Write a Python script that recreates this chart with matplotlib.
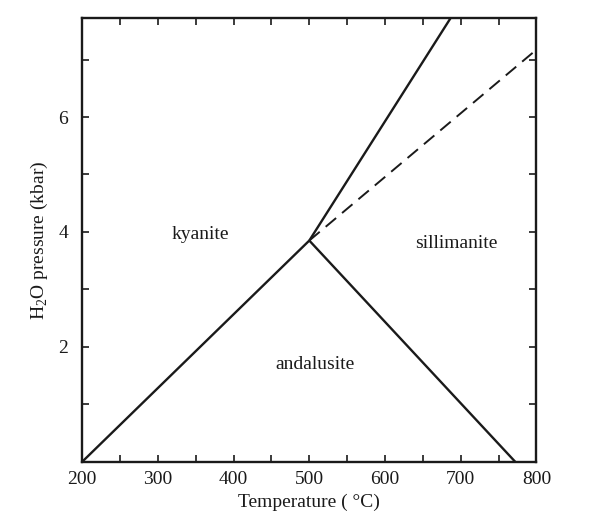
import matplotlib
matplotlib.use("Agg")
import matplotlib.pyplot as plt
from matplotlib.ticker import MultipleLocator

plt.rcParams["font.family"] = ["Liberation Serif", "DejaVu Serif"]
plt.rcParams["mathtext.fontset"] = "custom"
plt.rcParams["mathtext.rm"] = "Liberation Serif"

# phase boundaries (temperature degC, pressure kbar)
ky_and_t = [200, 500]
ky_and_p = [0.0, 3.85]
and_sil_t = [500, 772]
and_sil_p = [3.85, 0.0]
ky_sil_t = [500, 688]
ky_sil_p = [3.85, 7.75]
ky_sil_alt_t = [500, 798]
ky_sil_alt_p = [3.85, 7.15]

phase_names = ["kyanite", "sillimanite", "andalusite"]
phase_t = [356, 694, 508]
phase_p = [3.95, 3.8, 1.7]

ink = "#1a1a1a"

fig = plt.figure(figsize=(6.0, 5.2), dpi=100)
ax = fig.add_axes([0.137, 0.112, 0.757, 0.853])

lw = 1.7
ax.plot(ky_and_t, ky_and_p, color=ink, linewidth=lw, solid_capstyle="butt")
ax.plot(and_sil_t, and_sil_p, color=ink, linewidth=lw, solid_capstyle="butt")
ax.plot(ky_sil_t, ky_sil_p, color=ink, linewidth=lw, solid_capstyle="butt")
ax.plot(ky_sil_alt_t, ky_sil_alt_p, color=ink, linewidth=1.4,
        linestyle=(0, (7, 4)))

for name, t, p in zip(phase_names, phase_t, phase_p):
    ax.text(t, p, name, ha="center", va="center", fontsize=14, color=ink)

ax.set_xlim(200, 800)
ax.set_ylim(0, 7.72)
ax.set_xticks([200, 300, 400, 500, 600, 700, 800])
ax.xaxis.set_minor_locator(MultipleLocator(50))
ax.set_yticks([2, 4, 6])
ax.yaxis.set_minor_locator(MultipleLocator(1))
ax.tick_params(which="both", direction="in", top=True, right=True,
               color=ink, width=1.2, length=5, labelsize=14, labelcolor=ink)
ax.tick_params(axis="x", pad=7)
ax.tick_params(axis="y", pad=10)
for s in ax.spines.values():
    s.set_linewidth(1.7)
    s.set_color(ink)

ax.set_xlabel("Temperature ( °C)", fontsize=14, color=ink, labelpad=4)
ax.set_ylabel("H$_2$O pressure (kbar)", fontsize=14, color=ink, labelpad=6)

fig.savefig("out.png", dpi=100)
